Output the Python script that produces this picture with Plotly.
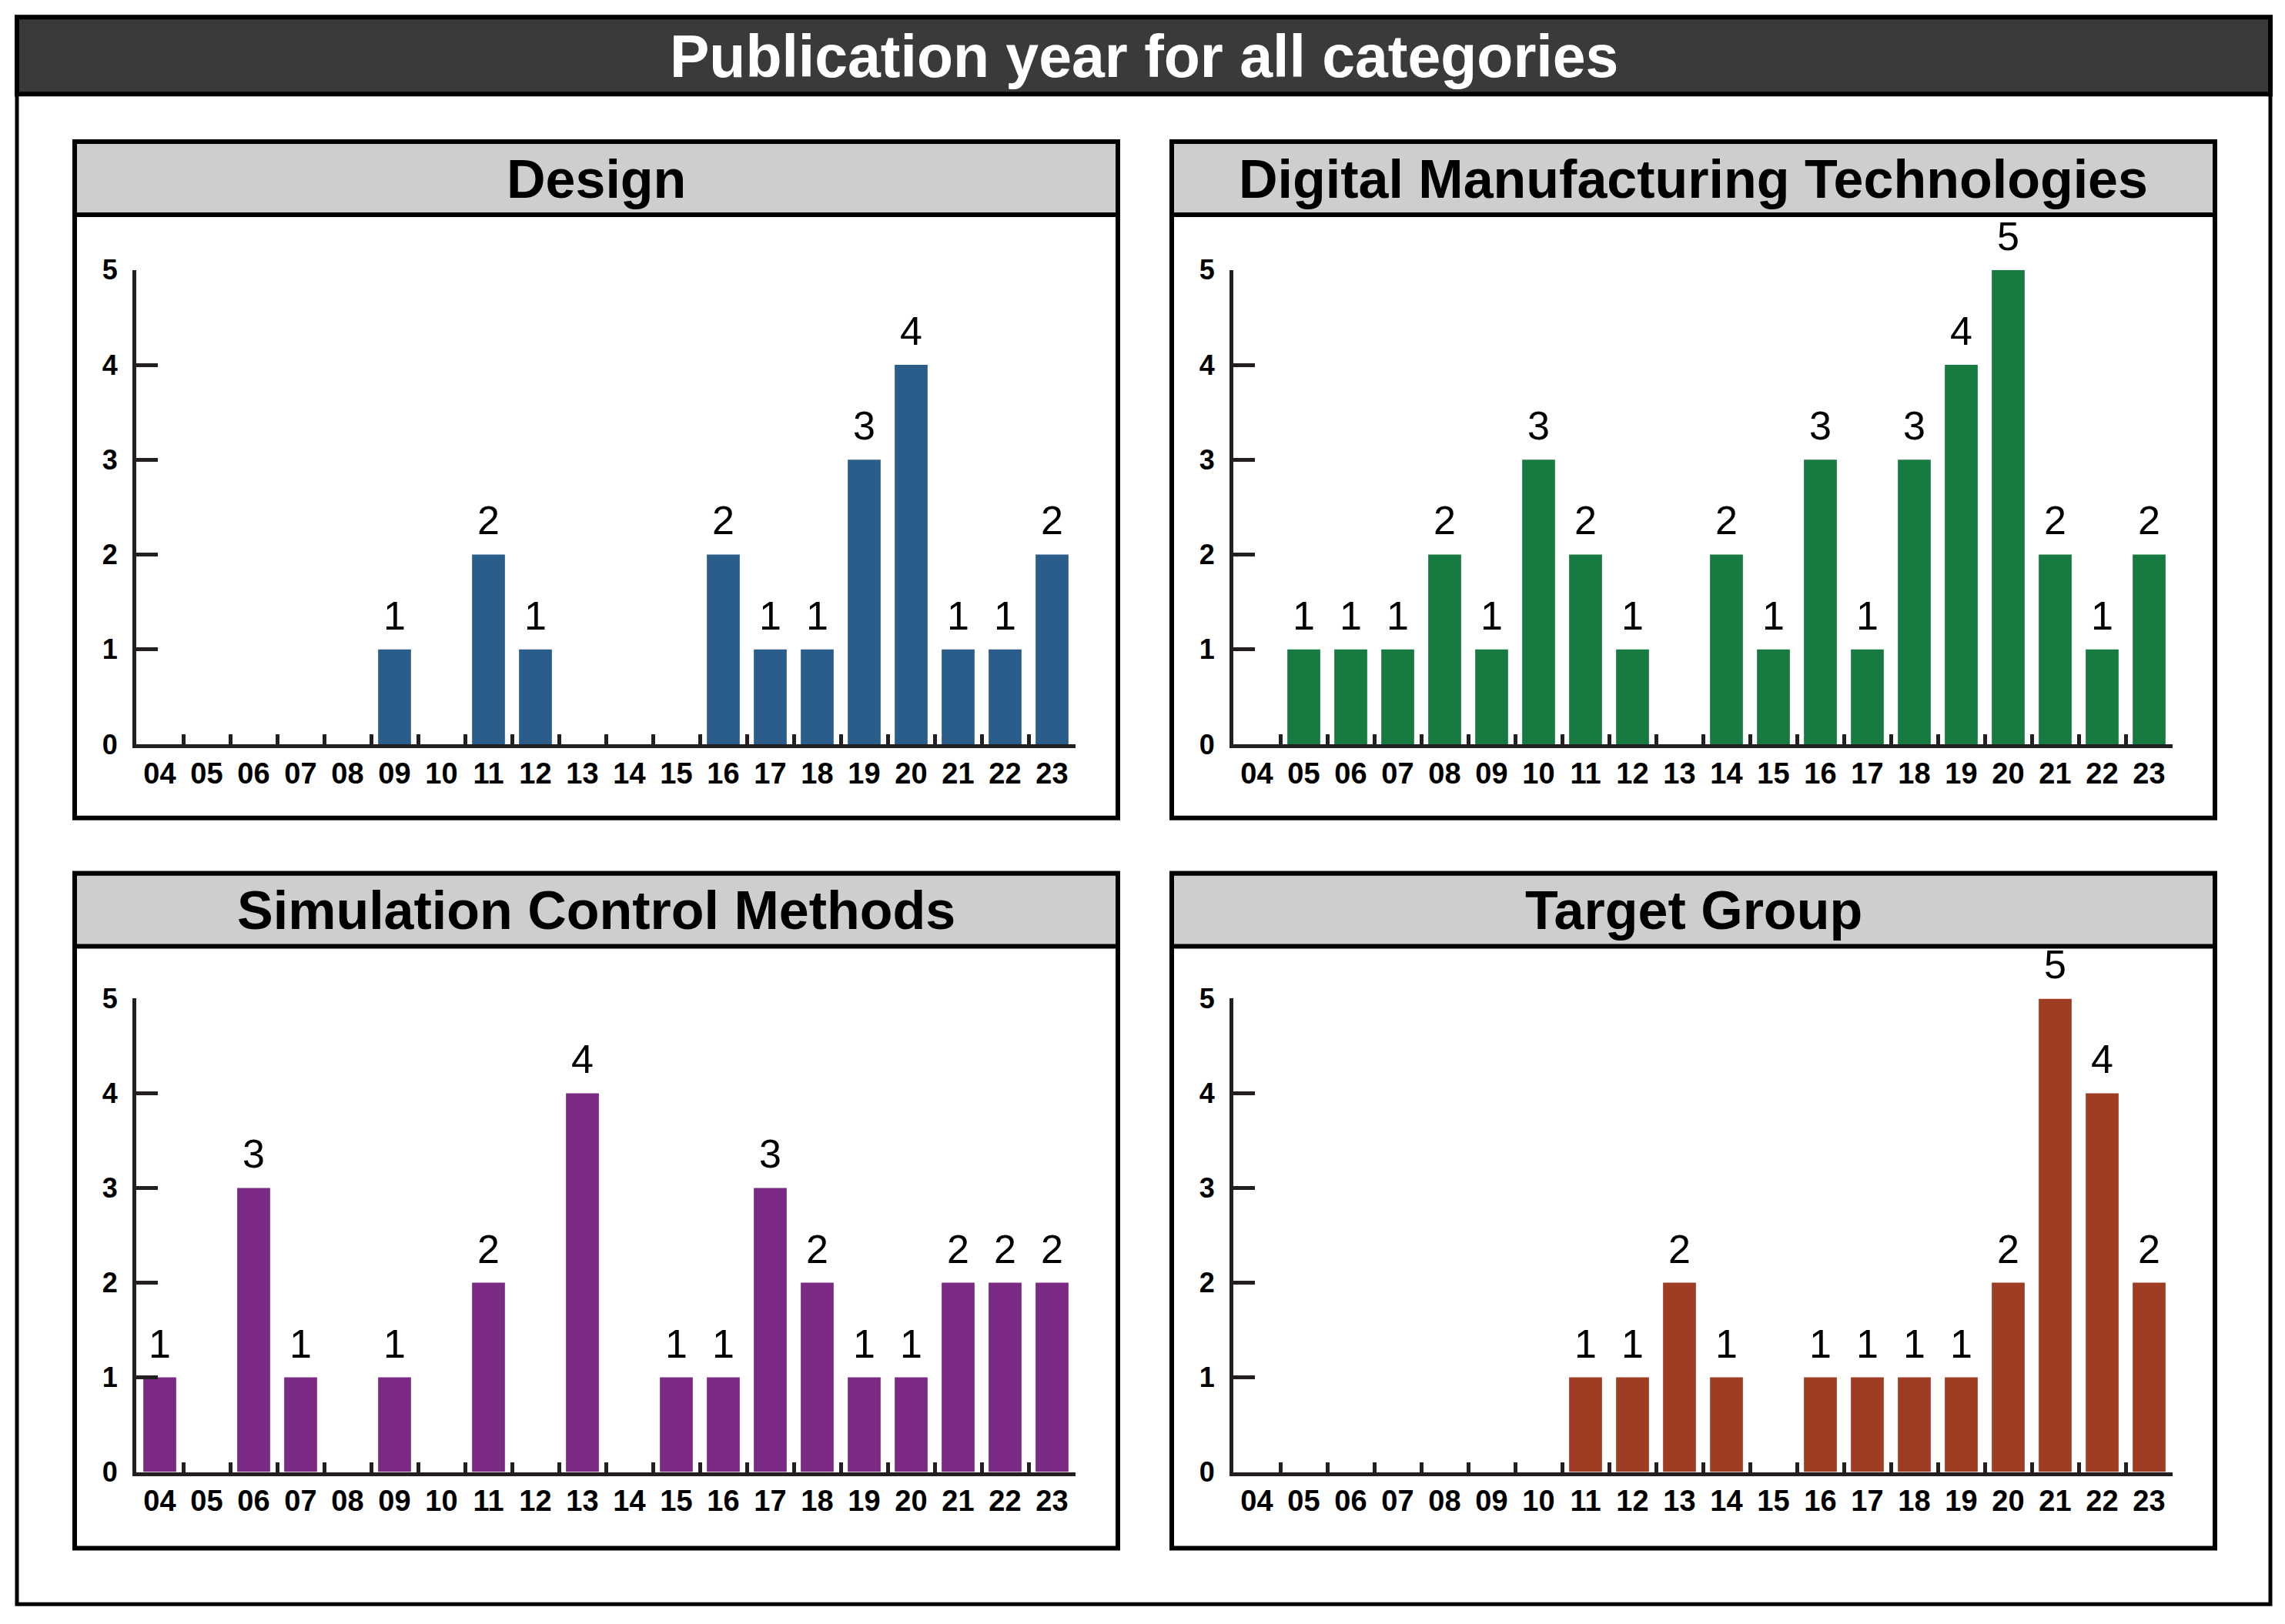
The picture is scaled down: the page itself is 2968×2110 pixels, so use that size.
import plotly.graph_objects as go

years = ["04", "05", "06", "07", "08", "09", "10", "11", "12", "13",
         "14", "15", "16", "17", "18", "19", "20", "21", "22", "23"]

design = [0, 0, 0, 0, 0, 1, 0, 2, 1, 0, 0, 0, 2, 1, 1, 3, 4, 1, 1, 2]
digital_manufacturing = [0, 1, 1, 1, 2, 1, 3, 2, 1, 0, 2, 1, 3, 1, 3, 4, 5, 2, 1, 2]
simulation_control = [1, 0, 3, 1, 0, 1, 0, 2, 0, 4, 0, 1, 1, 3, 2, 1, 1, 2, 2, 2]
target_group = [0, 0, 0, 0, 0, 0, 0, 1, 1, 2, 1, 0, 1, 1, 1, 1, 2, 5, 4, 2]

panel_titles = ["Design", "Digital Manufacturing Technologies",
                "Simulation Control Methods", "Target Group"]
panel_values = [design, digital_manufacturing, simulation_control, target_group]
panel_colors = ["#2b5d8a", "#177a40", "#7a2a82", "#9e3d23"]
main_title = "Publication year for all categories"

W, H = 2968, 2110


def px(x):
    return (x - 6) / W


def py(y):
    return 1 - ((y - 25.7) / 0.982) / H


# panel geometry (target pixels)
panel_x = [(95, 1450), (1520, 2875), (95, 1450), (1520, 2875)]
panel_y = [(182, 1062), (182, 1062), (1134, 2012), (1134, 2012)]
header_h = 95
plot_x_off = (80, 1300)
plot_y = [(349, 966), (349, 966), (1297, 1913), (1297, 1913)]

fig = go.Figure()
AX = "#231f20"

shapes = []
annotations = []

# outer frame and title bar
shapes.append(dict(type="rect", xref="paper", yref="paper", x0=px(20), x1=px(2947),
                   y0=py(20), y1=py(2085), line=dict(color="black", width=5),
                   fillcolor="white", layer="below"))
shapes.append(dict(type="rect", xref="paper", yref="paper", x0=px(20), x1=px(2947),
                   y0=py(20), y1=py(120), line=dict(color="black", width=6),
                   fillcolor="#3a3a3c", layer="below"))
annotations.append(dict(xref="paper", yref="paper", x=px((20 + 2947) / 2), y=py(71),
                        text="<b>" + main_title + "</b>", showarrow=False,
                        font=dict(family="Liberation Sans", size=77, color="white"),
                        xanchor="center", yanchor="middle"))

for i in range(4):
    xa = "x" if i == 0 else f"x{i+1}"
    ya = "y" if i == 0 else f"y{i+1}"
    x0, x1 = panel_x[i]
    y0, y1 = panel_y[i]
    shapes.append(dict(type="rect", xref="paper", yref="paper", x0=px(x0), x1=px(x1),
                       y0=py(y0), y1=py(y1), line=dict(color="black", width=6),
                       fillcolor="white", layer="below"))
    shapes.append(dict(type="rect", xref="paper", yref="paper", x0=px(x0), x1=px(x1),
                       y0=py(y0), y1=py(y0 + header_h), line=dict(color="black", width=6),
                       fillcolor="#cdcfce", layer="below"))
    annotations.append(dict(xref="paper", yref="paper", x=px((x0 + x1) / 2),
                            y=py(y0 + header_h / 2 + 1),
                            text="<b>" + panel_titles[i] + "</b>", showarrow=False,
                            font=dict(family="Liberation Sans", size=70, color="black"),
                            xanchor="center", yanchor="middle"))

    vals = panel_values[i]
    fig.add_trace(go.Bar(x=years, y=vals, marker=dict(color=panel_colors[i], line=dict(width=0)),
                         xaxis=xa, yaxis=ya, showlegend=False, hoverinfo="x+y"))
    for k, v in enumerate(vals):
        if v > 0:
            annotations.append(dict(xref=xa, yref=ya, x=k, y=v, text=str(v),
                                    showarrow=False, yanchor="bottom", yshift=13,
                                    font=dict(family="Liberation Sans", size=52, color="black")))

    dom_x = [px(x0 + plot_x_off[0]), px(x0 + plot_x_off[1])]
    dom_y = [py(plot_y[i][1]), py(plot_y[i][0])]
    xkey = "xaxis" if i == 0 else f"xaxis{i+1}"
    ykey = "yaxis" if i == 0 else f"yaxis{i+1}"
    fig.update_layout(**{
        xkey: dict(domain=dom_x, anchor=ya, type="category", categoryorder="array",
                   categoryarray=years, range=[-0.5, 19.5], tickson="boundaries",
                   ticks="inside", ticklen=13, tickwidth=5, tickcolor=AX,
                   showline=True, linewidth=5, linecolor=AX, showgrid=False,
                   zeroline=False, ticklabelstandoff=0,
                   tickfont=dict(family="Liberation Sans", size=38, color="black",
                                 weight="bold")),
        ykey: dict(domain=dom_y, anchor=xa, range=[0, 5], dtick=1, tick0=0,
                   ticks="inside", ticklen=28, tickwidth=5, tickcolor=AX,
                   showline=True, linewidth=5, linecolor=AX, showgrid=False,
                   zeroline=False, ticklabelstandoff=12,
                   tickfont=dict(family="Liberation Sans", size=36, color="black",
                                 weight="bold")),
    })

fig.update_layout(width=W, height=H, margin=dict(l=0, r=0, t=0, b=0),
                  paper_bgcolor="white", plot_bgcolor="rgba(0,0,0,0)",
                  bargap=0.3, shapes=shapes, annotations=annotations,
                  showlegend=False)

fig.write_html("out.html")
